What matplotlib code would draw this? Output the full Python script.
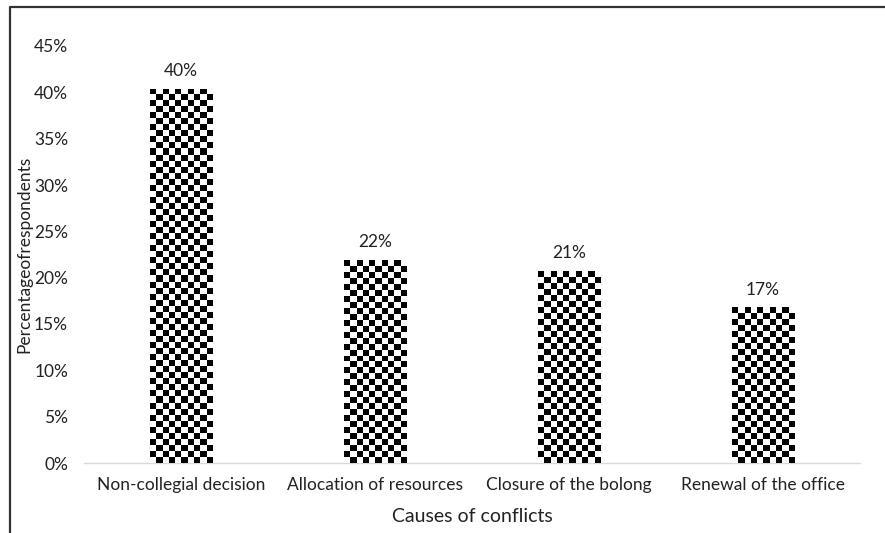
import numpy as np
import matplotlib
matplotlib.use('Agg')
import matplotlib.pyplot as plt
from matplotlib.lines import Line2D

# survey data
causes = ['Non-collegial decision', 'Allocation of resources',
          'Closure of the bolong', 'Renewal of the office']
shares = [0.404, 0.219, 0.207, 0.168]
bar_labels = ['40%', '22%', '21%', '17%']
yticks = [0, 0.05, 0.10, 0.15, 0.20, 0.25, 0.30, 0.35, 0.40, 0.45]

plt.rcParams['font.family'] = ['Lato', 'DejaVu Sans']

fig = plt.figure(figsize=(8.85, 5.33), dpi=100)
ax = fig.add_axes([84 / 885, 70 / 533, 776 / 885, 417 / 533])

x = np.arange(len(causes))
width = 0.32
bars = ax.bar(x, shares, width, color='white', edgecolor='none', zorder=2)

ax.set_xlim(-0.5, len(causes) - 0.5)
ax.set_ylim(0, 0.45)

# checkerboard fill, cell about 6 px
cell = 6.0
px_per_y = 417 / 0.45
px_per_x = 776 / len(causes)
for b in bars:
    w_px = b.get_width() * px_per_x
    h_px = b.get_height() * px_per_y
    nc = max(1, int(round(w_px / cell)))
    nr = max(1, int(round(h_px / cell)))
    ii, jj = np.indices((nr, nc))
    board = ((ii + jj) % 2).astype(float)
    x0 = b.get_x()
    im = ax.imshow(board, cmap='gray', vmin=0, vmax=1, interpolation='nearest',
                   extent=[x0, x0 + b.get_width(), 0, b.get_height()],
                   origin='upper', aspect='auto', zorder=3)
    im.set_clip_path(b)

for xi, v, lab in zip(x, shares, bar_labels):
    ax.annotate(lab, (xi, v), xytext=(0, 7), textcoords='offset points',
                ha='center', va='bottom', fontsize=12.5, color='#222222')

ax.set_xticks(x)
ax.set_xticklabels(causes, fontsize=12.5, color='#222222')
ax.set_yticks(yticks)
ax.set_yticklabels(['%d%%' % round(t * 100) for t in yticks], fontsize=12.5, color='#222222')
ax.tick_params(axis='x', length=0, pad=10)
ax.tick_params(axis='y', length=0, pad=11.5)

for s in ['top', 'right', 'left']:
    ax.spines[s].set_visible(False)
ax.spines['bottom'].set_color('#d9d9d9')
ax.spines['bottom'].set_linewidth(1)

ax.set_xlabel('Causes of conflicts', fontsize=14, color='#222222', labelpad=11)
ax.set_ylabel('Percentageofrespondents', fontsize=12.5, color='#222222', labelpad=1)

# frame around the chart (top and left only)
fig.add_artist(Line2D([9.5 / 885, 9.5 / 885, 1.0], [0.0, 1 - 7 / 533, 1 - 7 / 533],
                      transform=fig.transFigure, color='#333333', lw=1.6))

fig.savefig('out.png', dpi=100)
